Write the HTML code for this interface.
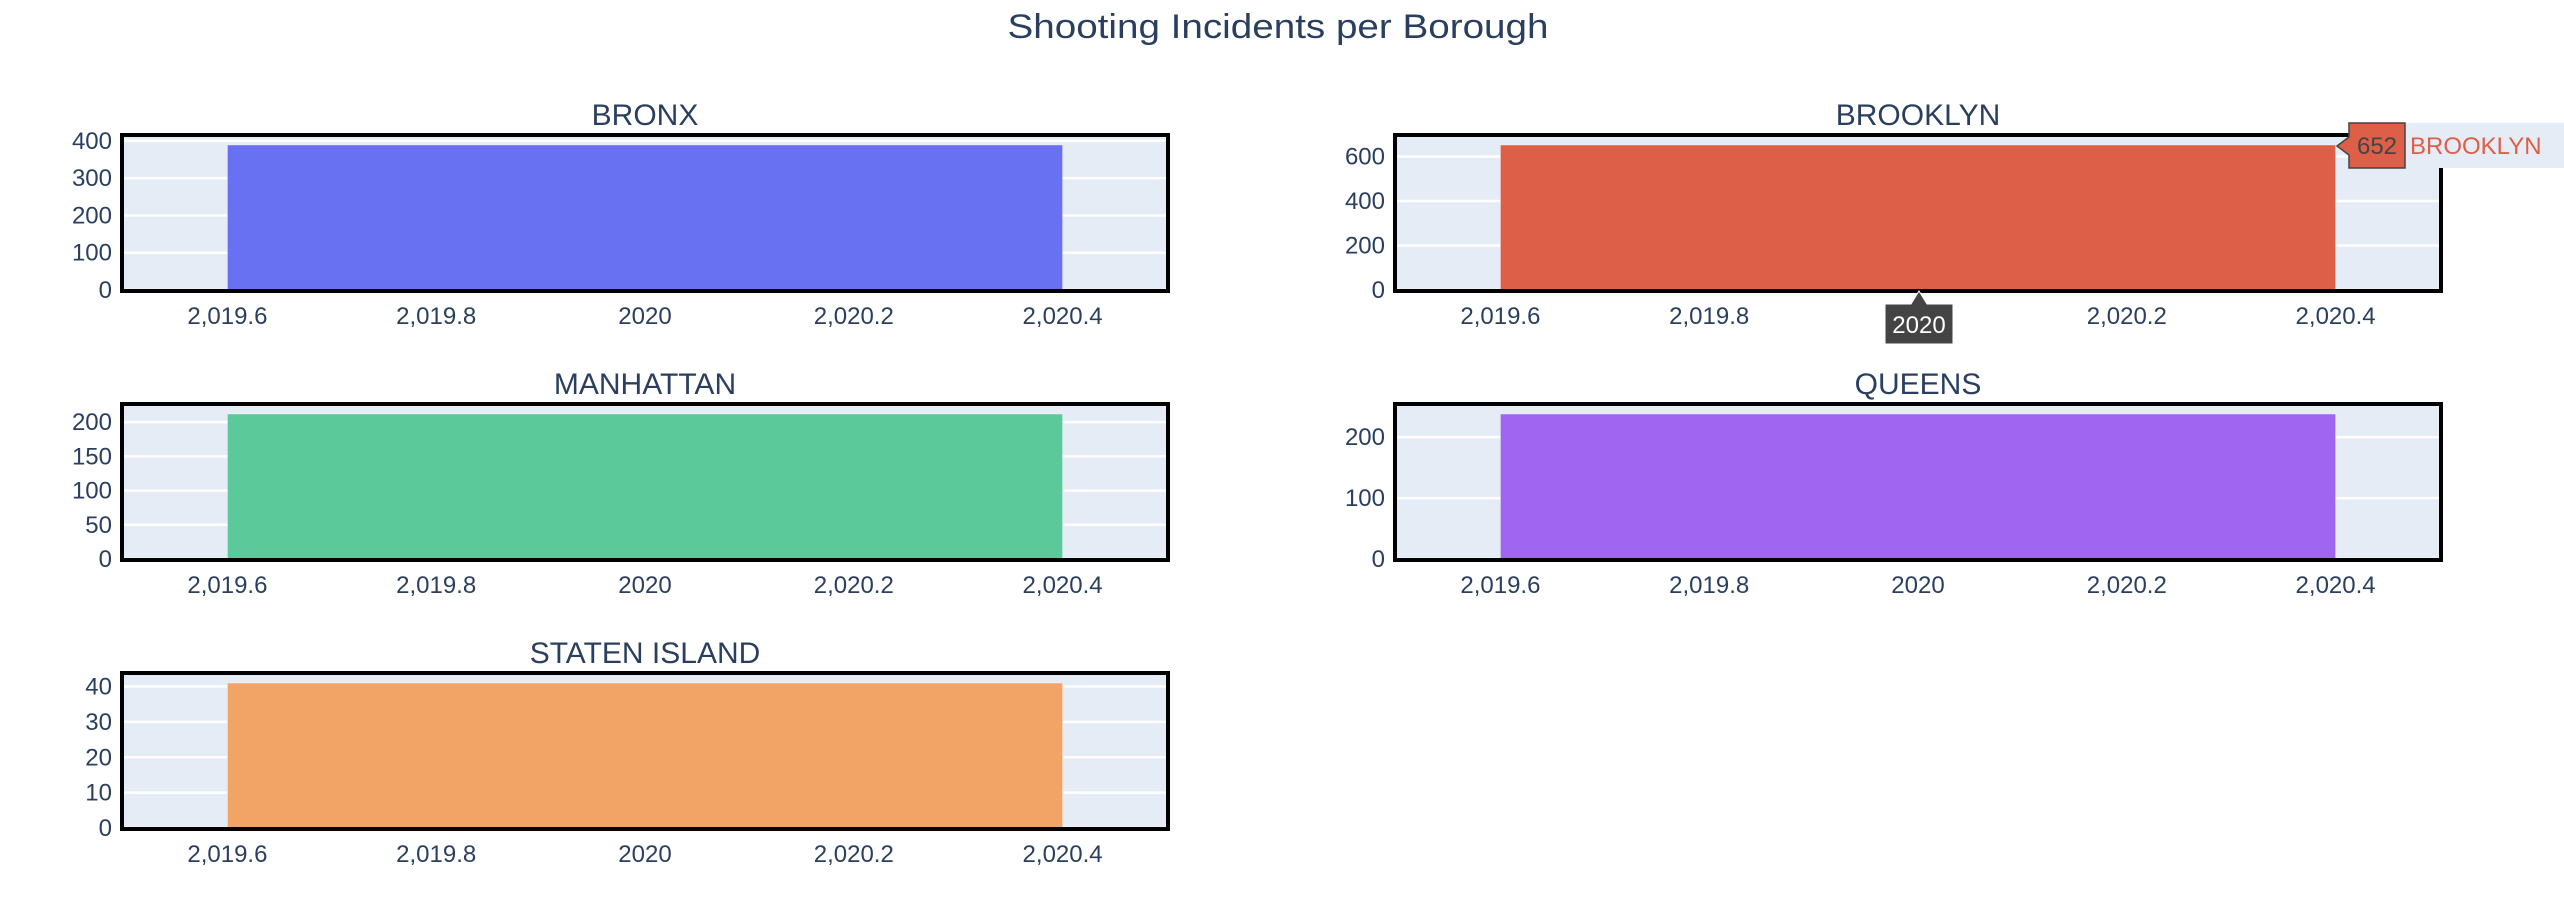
<!DOCTYPE html>
<html><head><meta charset="utf-8"><style>
html,body{margin:0;padding:0;background:#fff;}
svg{display:block;font-family:"Liberation Sans",sans-serif;}
</style></head><body>
<svg id="chart" width="2564" height="924" viewBox="0 0 2564 924" xmlns="http://www.w3.org/2000/svg">
<text x="1278" y="38" text-anchor="middle" font-size="34" textLength="541" lengthAdjust="spacingAndGlyphs" fill="#2a3f5f">Shooting Incidents per Borough</text>
</svg>
<script>
const boroughs = ["BRONX","BROOKLYN","MANHATTAN","QUEENS","STATEN ISLAND"];
const years = [2020];
const incidents = [389, 652, 212, 238, 41];
const yTicksBronx = [0,100,200,300,400];
const yTicksBrooklyn = [0,200,400,600];
const yTicksManhattan = [0,50,100,150,200];
const yTicksQueens = [0,100,200];
const yTicksStaten = [0,10,20,30,40];
const xTicks = [2019.6, 2019.8, 2020, 2020.2, 2020.4];
const xTickLabels = ["2,019.6","2,019.8","2020","2,020.2","2,020.4"];
const barColors = ["#6771f2","#de5f47","#5cc99b","#a066f2","#f2a467"];

const NS = "http://www.w3.org/2000/svg";
const svg = document.getElementById('chart');
function mk(tag, attrs, parent){const e=document.createElementNS(NS,tag);for(const k in attrs)e.setAttribute(k,attrs[k]);(parent||svg).appendChild(e);return e;}
const yTickSets=[yTicksBronx,yTicksBrooklyn,yTicksManhattan,yTicksQueens,yTicksStaten];
const panels=[{l:120,r:1170,t:133},{l:1393,r:2443,t:133},{l:120,r:1170,t:402},{l:1393,r:2443,t:402},{l:120,r:1170,t:671}];
const barWidth=0.8, xMin=2019.5, xMax=2020.5;

boroughs.forEach((name,i)=>{
  const p=panels[i];
  const slug=name.toLowerCase().replace(/ /g,'-');
  const g=mk('g',{});
  
  
  const il=p.l+3, ir=p.r-3, it=p.t+4, zero=p.t+157;
  const yMax=incidents[i]*1.055;
  const xs=v=>il+(v-xMin)/(xMax-xMin)*(ir-il);
  const ys=v=>zero-v/yMax*(zero-it);
  const bg=mk('rect',{x:p.l,y:p.t,width:p.r-p.l,height:160,fill:'#e5ecf6'},g);
  
  
  yTickSets[i].forEach(v=>{
    const gl=mk('line',{x1:p.l,x2:p.r,y1:ys(v),y2:ys(v),stroke:'#fff','stroke-width':2.5},g);
    
    
    const tl=mk('text',{x:p.l-8,y:ys(v)+8,'text-anchor':'end','font-size':24,fill:'#2a3f5f'},g);
    tl.textContent=v;
    
    
  });
  years.forEach(yr=>{
    const b=mk('rect',{x:xs(yr-barWidth/2),y:ys(incidents[i]),width:xs(yr+barWidth/2)-xs(yr-barWidth/2),height:zero-ys(incidents[i]),fill:barColors[i],stroke:'rgba(255,255,255,0.4)','stroke-width':1},g);
    
    
  });
  xTicks.forEach((v,k)=>{
    const t=mk('text',{x:xs(v),y:p.t+191,'text-anchor':'middle','font-size':24,fill:'#2a3f5f'},g);
    t.textContent=xTickLabels[k];
    
    
  });
  const fr=mk('rect',{x:p.l+2,y:p.t+2,width:p.r-p.l-4,height:156,fill:'none',stroke:'#000','stroke-width':4},g);
  
  
  const st=mk('text',{x:(p.l+p.r)/2,y:p.t-8,'text-anchor':'middle','font-size':30,fill:'#2a3f5f'},g);
  st.textContent=name;
  
  
});

// hover tooltips on Brooklyn
const hv=mk('g',{});


mk('rect',{x:2349,y:123,width:215,height:45,fill:'#e5ecf6'},hv);
mk('path',{d:'M2337,146 L2349,137 L2349,123 L2405,123 L2405,168 L2349,168 L2349,155 Z',fill:'#de5f47',stroke:'#444','stroke-width':1.5},hv);
const hvT=mk('text',{x:2377,y:154,'text-anchor':'middle','font-size':24,fill:'#444'},hv);
hvT.textContent=String(incidents[1]);
const hvN=mk('text',{x:2410,y:154,'font-size':24,fill:'#de5f47'},hv);
hvN.textContent='BROOKLYN';
const hx=mk('g',{});


mk('path',{d:'M1919,291 L1927,304 L1953,304 L1953,344 L1885,344 L1885,304 L1911,304 Z',fill:'#444',stroke:'#fff','stroke-width':1},hx);
const hxT=mk('text',{x:1919,y:333,'text-anchor':'middle','font-size':24,fill:'#fff'},hx);
hxT.textContent='2020';
</script>
</body></html>
